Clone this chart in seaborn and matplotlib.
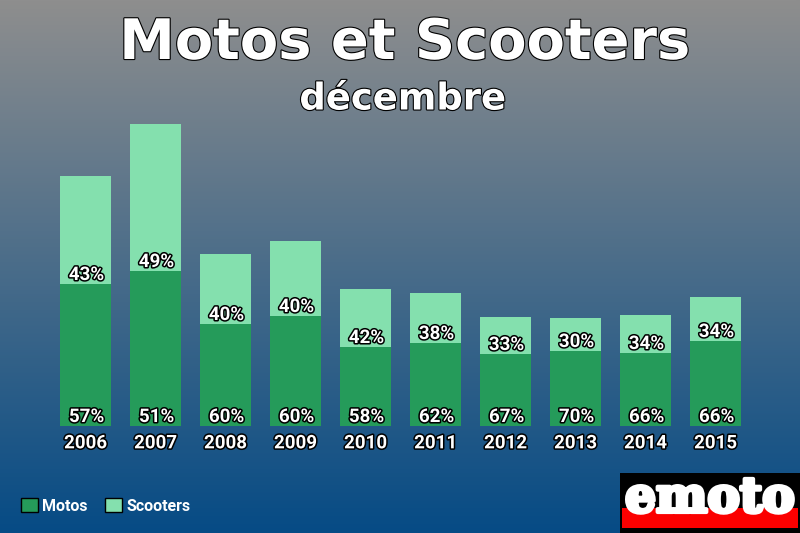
import numpy as np
import pandas as pd
import seaborn as sns
import matplotlib.pyplot as plt
import matplotlib.patheffects as pe
from matplotlib.colors import LinearSegmentedColormap
from matplotlib.patches import Patch, Rectangle

years = ['2006', '2007', '2008', '2009', '2010', '2011', '2012', '2013', '2014', '2015']
motos = [142, 155, 102, 110, 79, 83, 72, 75, 73, 85]
scooters = [108, 147, 70, 75, 58, 50, 37, 33, 38, 44]
motos_pct = [57, 51, 60, 60, 58, 62, 67, 70, 66, 66]
scooters_pct = [43, 49, 40, 40, 42, 38, 33, 30, 34, 34]

DARK = '#259b5a'
LIGHT = '#84e0ae'
W, H = 800, 533


def outline(width):
    return [pe.withStroke(linewidth=width, foreground='black')]


sns.set_theme(style='white')
plt.rcParams['font.family'] = ['Roboto', 'DejaVu Sans']

df = pd.DataFrame({'year': years, 'motos': motos, 'scooters': scooters})
df['total'] = df['motos'] + df['scooters']

fig = plt.figure(figsize=(W / 100, H / 100), dpi=100)

# background gradient
bg = fig.add_axes([0, 0, 1, 1], zorder=0)
cmap = LinearSegmentedColormap.from_list('bg', ['#8e8e8e', '#064b85'])
bg.imshow(np.linspace(0, 1, 256).reshape(-1, 1), aspect='auto', cmap=cmap)
bg.axis('off')

# bars, axes bottom sits on the bar baseline
ax = fig.add_axes([0, (H - 426) / H, 1, 426 / H], zorder=1)
ax.patch.set_alpha(0)
sns.barplot(data=df, x='year', y='total', color=LIGHT, width=51 / 70, saturation=1,
            linewidth=0, ax=ax)
sns.barplot(data=df, x='year', y='motos', color=DARK, width=51 / 70, saturation=1,
            linewidth=0, ax=ax)
ax.set_xlim(-85.5 / 70, (W - 85.5) / 70)
ax.set_ylim(0, 426)
ax.set_xlabel('')
ax.set_ylabel('')
ax.set_yticks([])
sns.despine(ax=ax, left=True, bottom=True)
ax.tick_params(axis='x', length=0, pad=6)
for lab in ax.get_xticklabels():
    lab.set_fontsize(13.5)
    lab.set_fontweight('bold')
    lab.set_color('white')
    lab.set_path_effects(outline(2.2))

for i in range(len(years)):
    ax.annotate(f'{motos_pct[i]}%', (i, 0), xytext=(1, 11), textcoords='offset pixels',
                ha='center', va='center_baseline', fontsize=13.5, fontweight='bold',
                color='white', path_effects=outline(2.2))
    ax.annotate(f'{scooters_pct[i]}%', (i, motos[i]), xytext=(1, 11), textcoords='offset pixels',
                ha='center', va='center_baseline', fontsize=13.5, fontweight='bold',
                color='white', path_effects=outline(2.2))

# titles
fig.text(405 / W, 1 - 44 / H, 'Motos et Scooters', ha='center', va='center', fontsize=40.2,
         fontweight='bold', color='white', family='DejaVu Sans', zorder=3,
         path_effects=outline(1.6))
fig.text(402.5 / W, 1 - 99 / H, 'décembre', ha='center', va='center', fontsize=26.6,
         fontweight='bold', color='white', family='DejaVu Sans', zorder=3,
         path_effects=outline(1.6))

# legend
handles = [Patch(facecolor=DARK, edgecolor='black', label='Motos'),
           Patch(facecolor=LIGHT, edgecolor='black', label='Scooters')]
leg = fig.legend(handles=handles, loc='lower left', bbox_to_anchor=(7 / W, 5 / H), frameon=False,
                 ncol=2, fontsize=11.5, handlelength=1.06, handleheight=1.0,
                 handletextpad=0.25, columnspacing=1.1)
for t in leg.get_texts():
    t.set_color('white')
    t.set_fontweight('bold')

# logo
fig.add_artist(Rectangle((620 / W, 0), 180 / W, 60 / H, transform=fig.transFigure,
                         facecolor='black', edgecolor='none', zorder=3))
fig.add_artist(Rectangle((622 / W, 5 / H), 176 / W, 20 / H, transform=fig.transFigure,
                         facecolor='#fb0000', edgecolor='none', zorder=4))
fig.text(710 / W, 1 - 512 / H, 'emoto', ha='center', va='baseline', fontsize=35, fontweight='bold',
         color='white', family='DejaVu Serif', zorder=5,
         path_effects=[pe.withStroke(linewidth=3, foreground='white')])

fig.savefig('out.png', dpi=100)
